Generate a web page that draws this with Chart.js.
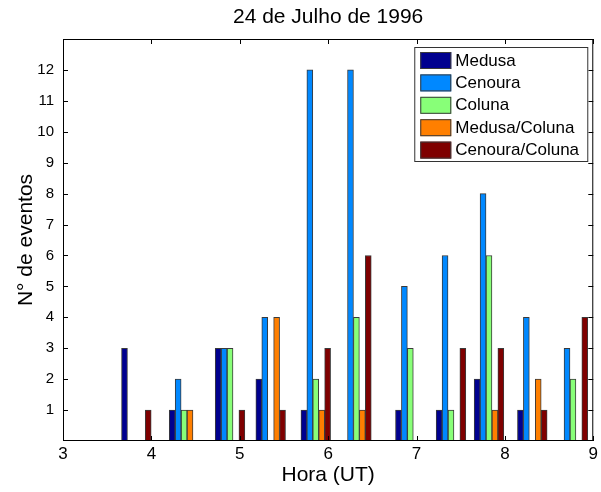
<!DOCTYPE html>
<html>
<head>
<meta charset="utf-8">
<script src="https://cdn.jsdelivr.net/npm/chart.js@4/dist/chart.umd.min.js"></script>
<style>
  html, body { margin: 0; padding: 0; background: #fff; }
  #wrap { width: 601px; height: 492px; }
</style>
</head>
<body>
<div id="wrap"><canvas id="c" width="601" height="492"></canvas></div>
<script>
// Event counts per half-hour interval, 24 July 1996
const hours         = [3.83, 4.37, 4.89, 5.35, 5.86, 6.32, 6.93, 7.39, 7.82, 8.31, 8.77];
const medusa        = [3, 1, 3, 2, 1, 0, 1, 1, 2, 1, 0];
const cenoura       = [0, 2, 3, 4, 12, 12, 5, 6, 8, 4, 3];
const coluna        = [0, 1, 3, 0, 2, 4, 3, 1, 6, 0, 2];
const medusaColuna  = [0, 1, 0, 4, 1, 1, 0, 0, 1, 2, 0];
const cenouraColuna = [1, 0, 1, 1, 3, 6, 0, 3, 3, 1, 4];

const seriesNames  = ['Medusa', 'Cenoura', 'Coluna', 'Medusa/Coluna', 'Cenoura/Coluna'];
const seriesValues = [medusa, cenoura, coluna, medusaColuna, cenouraColuna];
const seriesColors = ['#00008F', '#0088FF', '#88FF78', '#FF7F00', '#7F0000'];

const xTickValues = [3, 4, 5, 6, 7, 8, 9];
const yTickValues = [1, 2, 3, 4, 5, 6, 7, 8, 9, 10, 11, 12];

const chartTitle = '24 de Julho de 1996';

const FONT = "'Liberation Sans', Arial, Helvetica, sans-serif";

const datasets = seriesNames.map((name, i) => ({
  label: name,
  data: hours.map((h, j) => ({ x: h, y: seriesValues[i][j] })),
  backgroundColor: seriesColors[i],
  borderColor: '#3a3a3a',
  borderWidth: ctx => (ctx.raw && ctx.raw.y) ? 1 : 0,
  borderSkipped: false,
  barThickness: 5.93
}));

// Title centred over the plot area
const plotTitlePlugin = {
  id: 'plotTitle',
  afterDraw(chart) {
    const { ctx, chartArea: { left, right } } = chart;
    ctx.save();
    ctx.font = '21px ' + FONT;
    ctx.fillStyle = '#000';
    ctx.textAlign = 'center';
    ctx.textBaseline = 'middle';
    ctx.fillText(chartTitle, (left + right) / 2, 17);
    ctx.restore();
  }
};

// Axes box with inward tick marks on all four sides, drawn over the bars
const framePlugin = {
  id: 'frame',
  afterDatasetsDraw(chart) {
    const { ctx, chartArea: { left, top, right, bottom }, scales: { x, y } } = chart;
    const len = 5;
    ctx.save();
    ctx.strokeStyle = '#000';
    ctx.lineWidth = 1;
    ctx.strokeRect(left + 0.5, top + 0.5, right - left - 1, bottom - top - 1);
    ctx.beginPath();
    x.ticks.forEach(t => {
      const px = Math.round(x.getPixelForValue(t.value)) + 0.5;
      ctx.moveTo(px, bottom); ctx.lineTo(px, bottom - len);
      ctx.moveTo(px, top);    ctx.lineTo(px, top + len);
    });
    y.ticks.forEach(t => {
      const py = Math.round(y.getPixelForValue(t.value)) + 0.5;
      ctx.moveTo(left, py);  ctx.lineTo(left + len, py);
      ctx.moveTo(right, py); ctx.lineTo(right - len, py);
    });
    ctx.stroke();
    ctx.restore();
  }
};

// Boxed legend inside the upper-right corner of the plot
const boxLegendPlugin = {
  id: 'boxLegend',
  afterDraw(chart) {
    const { ctx, chartArea: { top, right } } = chart;
    const w = 174, h = 115;
    const bx = right - w - 5, by = top + 8;
    ctx.save();
    ctx.fillStyle = '#fff';
    ctx.fillRect(bx, by, w, h);
    ctx.strokeStyle = '#333';
    ctx.lineWidth = 1;
    ctx.strokeRect(bx + 0.5, by + 0.5, w - 1, h - 1);
    ctx.font = '17px ' + FONT;
    ctx.textBaseline = 'middle';
    ctx.textAlign = 'left';
    chart.data.datasets.forEach((ds, i) => {
      const sy = by + 5 + i * 22.4;
      ctx.fillStyle = ds.backgroundColor;
      ctx.fillRect(bx + 6, sy, 31, 17);
      ctx.strokeStyle = '#3a3a3a';
      ctx.strokeRect(bx + 6.5, sy + 0.5, 30, 16);
      ctx.fillStyle = '#000';
      ctx.fillText(ds.label, bx + 41, sy + 9);
    });
    ctx.restore();
  }
};

new Chart(document.getElementById('c'), {
  type: 'bar',
  data: { datasets },
  options: {
    responsive: false,
    animation: false,
    layout: { padding: { top: 39, left: 0, right: 5, bottom: 0 } },
    plugins: {
      legend: { display: false },
      tooltip: { enabled: false },
      title: { display: false }
    },
    scales: {
      x: {
        type: 'linear',
        min: 3,
        max: 9,
        offset: false,
        grid: { display: false, drawTicks: false },
        border: { display: false },
        afterBuildTicks: s => { s.ticks = xTickValues.map(v => ({ value: v })); },
        ticks: {
          color: '#000',
          font: { family: FONT, size: 17 },
          padding: 3,
          maxRotation: 0,
          autoSkip: false
        },
        title: {
          display: true,
          text: 'Hora (UT)',
          color: '#000',
          font: { family: FONT, size: 21 },
          padding: { top: 0, bottom: 4 }
        },
        afterFit: s => { s.height = 51; }
      },
      y: {
        min: 0,
        max: 13,
        grid: { display: false, drawTicks: false },
        border: { display: false },
        afterBuildTicks: s => { s.ticks = yTickValues.map(v => ({ value: v })); },
        ticks: {
          color: '#000',
          font: { family: FONT, size: 15 },
          padding: 9
        },
        title: {
          display: true,
          text: 'N° de eventos',
          color: '#000',
          font: { family: FONT, size: 21 },
          padding: { top: 14, bottom: 0 }
        },
        afterFit: s => { s.width = 63; }
      }
    }
  },
  plugins: [framePlugin, boxLegendPlugin, plotTitlePlugin]
});
</script>
</body>
</html>
